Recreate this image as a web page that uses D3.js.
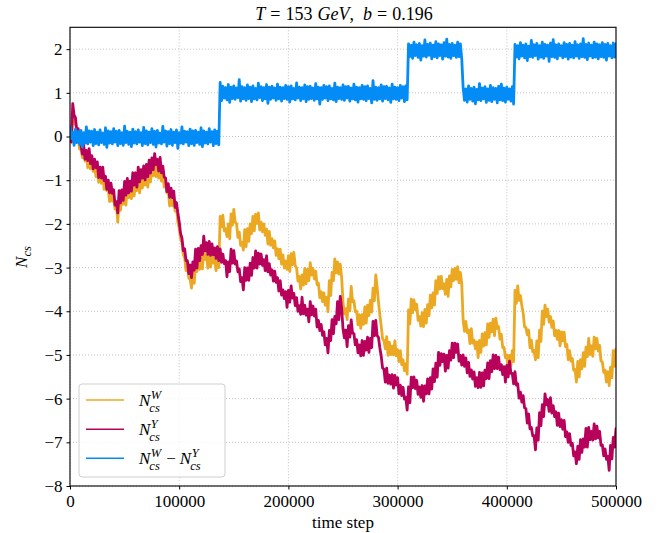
<!DOCTYPE html>
<html>
<head>
<meta charset="utf-8">
<script src="https://cdn.jsdelivr.net/npm/d3@7"></script>
<style>
  body { margin: 0; background: #fff; }
  text { font-family: "Liberation Serif", "DejaVu Serif", serif; fill: #000; }
</style>
</head>
<body>
<svg id="chart" width="668" height="533"></svg>
<script>
// Chern-Simons numbers, reduced to the maximum and minimum of every
// 2500-step bin (bins start at 0, 2500, ..., 500000).
const binSize = 2500;

const ncsWHigh = [
  0.14,0.55,0.37,0.02,-0.15,-0.36,-0.35,-0.47,-0.52,-0.64,
  -0.74,-0.87,-0.83,-1.01,-1.2,-1.18,-1.43,-1.55,-1.46,-1.3,
  -1.27,-1.07,-1.19,-1.04,-1.07,-0.88,-0.91,-0.9,-0.78,-0.78,
  -0.6,-0.66,-0.65,-0.77,-0.82,-1.09,-1.24,-1.37,-1.38,-1.61,
  -2.1,-2.43,-2.78,-2.9,-3.26,-3.05,-2.87,-2.67,-2.79,-2.54,
  -2.72,-2.63,-2.66,-2.8,-2.68,-1.83,-1.8,-2.11,-2.0,-1.77,
  -1.67,-1.99,-2.19,-2.42,-2.13,-2.11,-2.0,-1.83,-1.78,-1.75,
  -1.96,-2.0,-2.12,-2.17,-2.34,-2.39,-2.57,-2.58,-2.71,-2.85,
  -2.73,-2.68,-2.65,-3.01,-3.2,-3.17,-3.02,-3.04,-2.89,-3.02,
  -3.08,-3.36,-3.55,-3.58,-3.68,-3.3,-3.11,-2.8,-2.87,-2.92,
  -3.79,-3.94,-3.72,-3.43,-3.76,-4.0,-4.08,-4.08,-3.9,-3.86,
  -3.75,-3.47,-3.17,-3.79,-4.34,-4.67,-4.58,-4.71,-4.8,-4.68,
  -4.88,-4.9,-5.11,-5.2,-3.97,-3.72,-3.74,-3.84,-4.12,-4.03,
  -3.96,-3.85,-3.63,-3.58,-3.3,-3.21,-3.2,-3.37,-3.27,-3.19,
  -3.04,-3.02,-2.98,-3.11,-4.2,-4.23,-4.43,-4.4,-4.66,-4.7,
  -4.67,-4.52,-4.49,-4.29,-4.27,-4.18,-4.16,-4.35,-4.53,-4.83,
  -5.0,-5.01,-4.9,-3.52,-3.42,-3.64,-4.04,-4.37,-4.43,-4.66,
  -4.9,-4.68,-4.43,-4.0,-3.86,-3.95,-4.12,-4.22,-4.44,-4.44,
  -4.47,-4.48,-4.76,-4.9,-5.08,-5.33,-5.15,-5.11,-4.95,-4.82,
  -4.62,-4.79,-4.59,-4.62,-4.78,-5.16,-5.35,-5.38,-5.28,-4.9,
  -4.86
];
const ncsWLow = [
  -0.12,0.29,0.11,-0.29,-0.48,-0.56,-0.71,-0.74,-0.8,-0.92,
  -1.05,-1.07,-1.21,-1.24,-1.49,-1.48,-1.66,-1.96,-1.69,-1.55,
  -1.57,-1.4,-1.42,-1.36,-1.24,-1.29,-1.18,-1.11,-1.16,-1.04,
  -0.9,-0.92,-0.95,-1.02,-1.16,-1.29,-1.59,-1.58,-1.71,-1.96,
  -2.34,-2.7,-3.07,-3.25,-3.47,-3.36,-3.09,-3.04,-3.03,-2.81,
  -3.01,-2.99,-2.9,-3.07,-3.0,-2.07,-2.16,-2.29,-2.34,-2.03,
  -1.96,-2.31,-2.49,-2.6,-2.52,-2.4,-2.22,-2.16,-1.99,-2.14,
  -2.18,-2.26,-2.46,-2.49,-2.55,-2.72,-2.8,-2.92,-3.01,-3.04,
  -3.09,-2.93,-2.96,-3.31,-3.49,-3.4,-3.37,-3.3,-3.17,-3.26,
  -3.39,-3.69,-3.78,-3.86,-4.01,-3.64,-3.3,-3.12,-3.15,-3.22,
  -4.06,-4.19,-3.99,-3.78,-4.01,-4.31,-4.39,-4.3,-4.27,-4.1,
  -4.02,-3.76,-3.44,-4.09,-4.63,-4.86,-5.01,-4.99,-5.0,-5.02,
  -5.15,-5.22,-5.36,-5.44,-4.29,-4.03,-3.96,-4.21,-4.34,-4.35,
  -4.27,-4.1,-3.92,-3.86,-3.59,-3.49,-3.48,-3.61,-3.66,-3.44,
  -3.3,-3.27,-3.35,-3.37,-4.46,-4.49,-4.74,-4.73,-4.86,-5.06,
  -4.94,-4.8,-4.77,-4.6,-4.47,-4.56,-4.39,-4.64,-4.83,-5.06,
  -5.41,-5.24,-5.15,-3.82,-3.75,-3.87,-4.36,-4.54,-4.84,-4.93,
  -5.11,-5.06,-4.69,-4.3,-4.12,-4.25,-4.37,-4.56,-4.64,-4.79,
  -4.68,-4.81,-5.11,-5.14,-5.35,-5.62,-5.5,-5.32,-5.26,-5.04,
  -4.99,-5.03,-4.86,-4.91,-5.14,-5.4,-5.62,-5.7,-5.52,-5.26,
  -5.04
];

const ncsYHigh = [
  0.09,0.75,0.43,0.18,-0.19,-0.19,-0.32,-0.28,-0.44,-0.52,
  -0.58,-0.7,-0.7,-0.91,-1.0,-1.07,-1.22,-1.49,-1.24,-1.22,
  -1.03,-0.96,-1.02,-0.83,-0.83,-0.7,-0.76,-0.67,-0.64,-0.54,
  -0.49,-0.39,-0.52,-0.48,-0.68,-0.95,-1.08,-1.18,-1.25,-1.51,
  -1.95,-2.32,-2.57,-2.84,-2.94,-2.87,-2.58,-2.56,-2.5,-2.28,
  -2.43,-2.4,-2.46,-2.55,-2.52,-2.57,-2.69,-2.84,-2.87,-2.58,
  -2.61,-2.85,-3.03,-3.23,-3.0,-3.01,-2.9,-2.77,-2.62,-2.67,
  -2.69,-2.82,-2.73,-2.91,-3.05,-3.08,-3.23,-3.3,-3.51,-3.55,
  -3.52,-3.42,-3.59,-3.69,-3.87,-3.68,-3.86,-3.95,-3.78,-3.88,
  -3.95,-4.21,-4.3,-4.47,-4.62,-4.44,-4.19,-4.12,-3.78,-3.66,
  -4.4,-4.43,-4.33,-4.2,-4.51,-4.65,-4.77,-4.67,-4.69,-4.59,
  -4.62,-4.23,-4.21,-4.6,-5.03,-5.33,-5.3,-5.46,-5.45,-5.47,
  -5.52,-5.69,-5.74,-5.97,-5.73,-5.51,-5.5,-5.58,-5.73,-5.7,
  -5.71,-5.55,-5.52,-5.32,-5.19,-4.94,-4.97,-4.98,-5.01,-4.9,
  -4.73,-4.73,-4.75,-5.01,-5.0,-5.07,-5.17,-5.34,-5.39,-5.52,
  -5.4,-5.41,-5.35,-5.18,-5.13,-5.0,-5.01,-5.05,-5.22,-5.27,
  -5.24,-5.14,-5.42,-5.38,-5.66,-5.85,-5.93,-6.23,-6.35,-6.66,
  -6.85,-6.67,-6.32,-6.14,-5.89,-6.02,-5.98,-6.16,-6.3,-6.33,
  -6.48,-6.5,-6.76,-6.8,-7.02,-7.22,-7.09,-6.94,-6.92,-6.68,
  -6.66,-6.75,-6.58,-6.63,-6.75,-7.06,-7.15,-7.32,-7.07,-6.89,
  -6.69
];
const ncsYLow = [
  -0.13,0.49,0.09,-0.14,-0.4,-0.52,-0.55,-0.62,-0.74,-0.71,
  -0.94,-0.95,-1.01,-1.21,-1.29,-1.3,-1.57,-1.75,-1.52,-1.46,
  -1.34,-1.29,-1.25,-1.11,-1.16,-1.04,-0.95,-0.99,-0.92,-0.84,
  -0.76,-0.64,-0.79,-0.83,-0.93,-1.26,-1.39,-1.4,-1.62,-1.75,
  -2.22,-2.61,-2.84,-3.14,-3.23,-3.06,-3.01,-2.84,-2.7,-2.62,
  -2.7,-2.72,-2.71,-2.79,-2.84,-2.88,-2.91,-3.21,-3.09,-2.9,
  -2.92,-3.1,-3.32,-3.51,-3.29,-3.29,-3.18,-3.01,-3.01,-2.92,
  -2.95,-3.07,-3.1,-3.17,-3.31,-3.34,-3.54,-3.63,-3.71,-3.91,
  -3.79,-3.7,-3.87,-4.0,-4.07,-4.06,-4.09,-4.24,-4.08,-4.11,
  -4.36,-4.44,-4.55,-4.77,-4.95,-4.67,-4.51,-4.29,-4.19,-3.93,
  -4.61,-4.81,-4.59,-4.5,-4.77,-4.95,-5.02,-5.01,-4.89,-4.94,
  -4.83,-4.56,-4.56,-4.84,-5.3,-5.62,-5.65,-5.67,-5.76,-5.69,
  -5.89,-5.93,-6.01,-6.26,-6.09,-5.75,-5.77,-5.9,-5.97,-6.06,
  -5.89,-5.89,-5.78,-5.61,-5.51,-5.24,-5.15,-5.37,-5.3,-5.12,
  -5.06,-4.94,-5.14,-5.23,-5.26,-5.41,-5.49,-5.55,-5.72,-5.75,
  -5.74,-5.71,-5.54,-5.54,-5.38,-5.31,-5.31,-5.34,-5.45,-5.62,
  -5.5,-5.42,-5.66,-5.69,-5.99,-6.08,-6.21,-6.56,-6.69,-6.85,
  -7.17,-6.95,-6.62,-6.41,-6.14,-6.29,-6.33,-6.41,-6.61,-6.64,
  -6.7,-6.87,-7.0,-7.07,-7.31,-7.49,-7.39,-7.23,-7.11,-7.11,
  -6.94,-6.95,-6.92,-6.9,-7.07,-7.31,-7.39,-7.64,-7.38,-7.11,
  -7.06
];

const ncsDiffHigh = [
  0.25,0.10,0.17,0.11,0.14,0.09,0.22,0.13,0.12,0.16,
  0.10,0.15,0.08,0.20,0.13,0.11,0.18,0.12,0.14,0.09,
  0.24,0.12,0.10,0.17,0.11,0.15,0.09,0.21,0.13,0.10,
  0.18,0.12,0.14,0.08,0.23,0.13,0.11,0.16,0.10,0.15,
  0.09,0.22,0.12,0.11,0.17,0.13,0.14,0.10,0.20,0.13,
  0.10,0.18,0.11,0.15,0.12,
  1.24,1.15,1.12,1.19,1.13,1.16,1.11,1.3,1.14,1.12,
  1.18,1.13,1.16,1.1,1.22,1.14,1.12,1.19,1.13,1.15,
  1.11,1.2,1.13,1.12,1.17,1.14,1.16,1.1,1.23,1.13,
  1.12,1.18,1.14,1.15,1.11,1.21,1.13,1.12,1.17,1.14,
  1.16,1.1,1.22,1.13,1.12,1.18,1.14,1.15,1.11,1.2,
  1.13,1.12,1.17,1.14,1.16,1.1,1.28,1.13,1.12,1.18,
  1.14,1.15,1.11,1.2,1.13,1.12,1.17,1.14,1.16,
  2.12,2.09,2.16,2.10,2.13,2.08,2.21,2.11,2.14,2.09,
  2.17,2.12,2.1,2.15,2.23,2.11,2.13,2.09,2.16,2.12,
  1.12,1.09,1.16,1.10,1.13,1.08,1.21,1.11,1.14,1.09,
  1.17,1.12,1.1,1.15,1.2,1.11,1.13,1.09,1.14,
  2.11,2.08,2.15,2.09,2.12,2.07,2.2,2.1,2.13,2.08,
  2.16,2.11,2.09,2.14,2.22,2.1,2.12,2.08,2.15,2.11,
  2.13,2.09,2.17,2.1,2.12,2.24,2.11,2.14,2.09,2.16,
  2.12,2.1,2.15,2.11,2.13,2.08,2.14,2.12
];
const ncsDiffLow = [
  -0.05,-0.2,-0.14,-0.18,-0.24,-0.15,-0.17,-0.13,-0.21,-0.16,
  -0.19,-0.14,-0.18,-0.25,-0.15,-0.17,-0.13,-0.21,-0.16,-0.2,
  -0.14,-0.18,-0.23,-0.15,-0.17,-0.13,-0.21,-0.16,-0.19,-0.14,
  -0.18,-0.24,-0.15,-0.17,-0.13,-0.22,-0.16,-0.2,-0.14,-0.27,
  -0.15,-0.17,-0.13,-0.21,-0.16,-0.2,-0.14,-0.18,-0.23,-0.15,
  -0.17,-0.13,-0.21,-0.16,-0.19,
  0.82,0.88,0.84,0.78,0.87,0.85,0.89,0.81,0.86,0.83,
  0.87,0.8,0.86,0.84,0.89,0.82,0.86,0.76,0.85,0.88,
  0.83,0.86,0.81,0.87,0.85,0.79,0.86,0.84,0.88,0.82,
  0.86,0.8,0.85,0.87,0.83,0.86,0.74,0.85,0.88,0.82,
  0.86,0.84,0.8,0.87,0.85,0.83,0.88,0.81,0.86,0.84,
  0.79,0.86,0.85,0.82,0.87,0.77,0.85,0.83,0.86,0.81,
  0.87,0.84,0.78,0.86,0.85,0.82,0.88,0.8,0.84,
  1.83,1.79,1.85,1.81,1.75,1.84,1.82,1.86,1.78,1.83,
  1.8,1.85,1.77,1.84,1.82,1.79,1.85,1.81,1.83,1.78,
  0.83,0.79,0.85,0.81,0.75,0.84,0.82,0.86,0.78,0.83,
  0.8,0.85,0.77,0.84,0.82,0.79,0.85,0.81,0.74,
  1.82,1.78,1.84,1.8,1.74,1.83,1.81,1.85,1.77,1.82,
  1.79,1.84,1.72,1.83,1.81,1.78,1.85,1.8,1.83,1.77,
  1.82,1.8,1.84,1.79,1.83,1.81,1.76,1.84,1.8,1.82,
  1.78,1.83,1.81,1.75,1.84,1.8,1.82,1.79
];

const xTickValues = [0, 100000, 200000, 300000, 400000, 500000];
const yTickValues = [-8, -7, -6, -5, -4, -3, -2, -1, 0, 1, 2];
const seriesColors = ["#eba923", "#b8015a", "#048cf6"];

const svg = d3.select("#chart");
const plot = { left: 70, right: 616, top: 27.3, bottom: 486 };

const x = d3.scaleLinear().domain([0, 500000]).range([plot.left, plot.right]);
const y = d3.scaleLinear().domain([-8, 2.5]).range([plot.bottom, plot.top]);

// dotted grid
const grid = svg.append("g").attr("stroke", "#b4b4b4").attr("stroke-width", 0.8)
  .attr("stroke-dasharray", "1,2");
grid.selectAll("line.gx").data(xTickValues).join("line")
  .attr("x1", d => x(d)).attr("x2", d => x(d))
  .attr("y1", plot.top).attr("y2", plot.bottom);
grid.selectAll("line.gy").data(yTickValues).join("line")
  .attr("x1", plot.left).attr("x2", plot.right)
  .attr("y1", d => y(d)).attr("y2", d => y(d));

// clip to plotting area
svg.append("clipPath").attr("id", "plotClip").append("rect")
  .attr("x", plot.left).attr("y", plot.top)
  .attr("width", plot.right - plot.left).attr("height", plot.bottom - plot.top);

// each bin is traced max -> min, the way a dense trace fills its pixels
const binTrace = (high, low) =>
  high.flatMap((h, i) => [[i * binSize, h], [i * binSize + binSize / 2, low[i]]]);

const line = d3.line().x(d => x(d[0])).y(d => y(d[1]));

const lines = svg.append("g").attr("clip-path", "url(#plotClip)");
[[ncsWHigh, ncsWLow], [ncsYHigh, ncsYLow], [ncsDiffHigh, ncsDiffLow]].forEach(([hi, lo], k) => {
  lines.append("path")
    .datum(binTrace(hi, lo))
    .attr("fill", "none")
    .attr("stroke", seriesColors[k])
    .attr("stroke-width", 2.8)
    .attr("stroke-linejoin", "round")
    .attr("d", line);
});

// axes
const xAxis = d3.axisBottom(x).tickValues(xTickValues).tickSize(3.5).tickPadding(5)
  .tickFormat(d3.format("d"));
const yAxis = d3.axisLeft(y).tickValues(yTickValues).tickSize(3.5).tickPadding(4)
  .tickFormat(d3.format("d"));

const gx = svg.append("g").attr("transform", `translate(0,${plot.bottom})`).call(xAxis);
const gy = svg.append("g").attr("transform", `translate(${plot.left},0)`).call(yAxis);
[gx, gy].forEach(g => {
  g.select(".domain").remove();
  g.selectAll(".tick line").attr("stroke", "#000").attr("stroke-width", 1);
  g.selectAll(".tick text")
    .style("font-family", '"Liberation Serif", serif')
    .style("font-size", "17px").attr("fill", "#000");
});
gx.selectAll(".tick text").attr("dy", "0.72em");

// frame
svg.append("rect")
  .attr("x", plot.left).attr("y", plot.top)
  .attr("width", plot.right - plot.left).attr("height", plot.bottom - plot.top)
  .attr("fill", "none").attr("stroke", "#000").attr("stroke-width", 1.1);

// title
const title = svg.append("text").attr("x", 344).attr("y", 20)
  .attr("text-anchor", "middle").style("font-size", "18px");
title.append("tspan").attr("font-style", "italic").text("T");
title.append("tspan").attr("dx", 5).text("=");
title.append("tspan").attr("dx", 5).text("153");
title.append("tspan").attr("dx", 5).attr("font-style", "italic").text("GeV");
title.append("tspan").text(",");
title.append("tspan").attr("dx", 9).attr("font-style", "italic").text("b");
title.append("tspan").attr("dx", 5).text("=");
title.append("tspan").attr("dx", 5).text("0.196");

// x axis label
svg.append("text").attr("x", 343).attr("y", 528)
  .attr("text-anchor", "middle").style("font-size", "17px").text("time step");

// y axis label N_cs
const yl = svg.append("text")
  .attr("transform", "translate(27,257) rotate(-90)")
  .attr("text-anchor", "middle").style("font-size", "17px");
yl.append("tspan").attr("font-style", "italic").text("N");
yl.append("tspan").attr("font-style", "italic").attr("dy", 4).style("font-size", "12.5px").text("cs");

// legend
const legend = svg.append("g");
legend.append("rect")
  .attr("x", 79).attr("y", 384).attr("width", 146).attr("height", 93)
  .attr("rx", 3).attr("fill", "#fff").attr("fill-opacity", 0.8)
  .attr("stroke", "#cfcfcf").attr("stroke-width", 1);

// width of a short italic string at a given size
function textWidth(str, size) {
  const t = svg.append("text").attr("font-style", "italic")
    .style("font-size", size + "px").text(str);
  const w = t.node().getComputedTextLength();
  t.remove();
  return w;
}

// appends N with a stacked superscript and "cs" subscript to a text element
function appendNcs(text, sup, lead) {
  const supW = textWidth(sup, 12.5);
  const subW = textWidth("cs", 12.5);
  text.append("tspan").attr("font-style", "italic").attr("dx", lead).text("N");
  text.append("tspan").attr("font-style", "italic").style("font-size", "12.5px")
    .attr("dx", 0.5).attr("dy", -7).text(sup);
  text.append("tspan").attr("font-style", "italic").style("font-size", "12.5px")
    .attr("dx", -supW - 1.5).attr("dy", 13).text("cs");
  // back to the main baseline after the wider of the two scripts
  const extra = Math.max(0, supW + 1 - subW);
  text.append("tspan").attr("dx", extra).attr("dy", -6).text("\u200a");
}

const legendRows = [400, 429.3, 458.3];
legendRows.forEach((ly, k) => {
  legend.append("line").attr("x1", 86).attr("x2", 124).attr("y1", ly).attr("y2", ly)
    .attr("stroke", seriesColors[k]).attr("stroke-width", 1.6);
});
const legendSups = [["W"], ["Y"], ["W", "Y"]];
legendRows.forEach((ly, k) => {
  const t = legend.append("text").attr("x", 139).attr("y", ly + 6).style("font-size", "17px");
  legendSups[k].forEach((sup, j) => {
    if (j > 0) t.append("tspan").attr("dx", 4).text("\u2212");
    appendNcs(t, sup, j > 0 ? 4 : 0);
  });
});
</script>
</body>
</html>
